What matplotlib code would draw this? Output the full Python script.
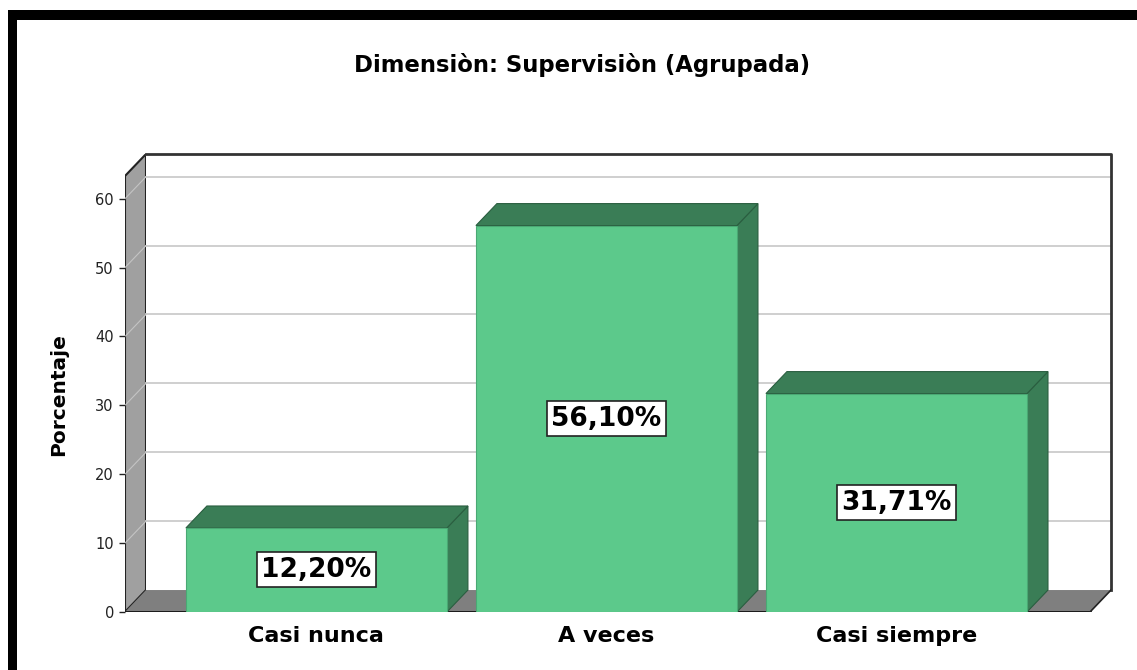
import matplotlib.pyplot as plt
from matplotlib.patches import Polygon, Rectangle

plt.rcParams['font.family'] = ['DejaVu Sans']

categories = ['Casi nunca', 'A veces', 'Casi siempre']
percentages = [12.20, 56.10, 31.71]
labels = ['12,20%', '56,10%', '31,71%']
yticks = [0, 10, 20, 30, 40, 50, 60]

front = '#5cc98b'
dark = '#3a7d56'

# 3d look: depth offset in data units
dx, dy = 0.0724, 3.19
xl, xr = -0.660, 2.7397
top = 63.3
w = 0.45

fig = plt.figure(figsize=(11.37, 6.70), dpi=100)
ax = fig.add_axes([125 / 1137, 58 / 670, 986 / 1137, 458 / 670])
ax.set_xlim(xl, xr)
ax.set_ylim(0, top + dy)

# left wall
ax.add_patch(Polygon([(xl, 0), (xl + dx, dy), (xl + dx, top + dy), (xl, top)],
                     closed=True, fc='#a0a0a0', ec='#222222', lw=1.5, zorder=1))
# floor
ax.add_patch(Polygon([(xl, 0), (xr - dx, 0), (xr, dy), (xl + dx, dy)],
                     closed=True, fc='#7f7f7f', ec='none', zorder=1))
ax.plot([xl, xr - dx], [0, 0], color='#111111', lw=2, zorder=2)
# back wall
ax.add_patch(Rectangle((xl + dx, dy), xr - xl - dx, top, fc='white', ec='none', zorder=1))
ax.plot([xl + dx, xr, xr], [top + dy, top + dy, dy], color='#333333', lw=2, zorder=2,
        clip_on=False)
ax.plot([xr - dx, xr], [0, dy], color='#222222', lw=1.2, zorder=2)

# gridlines on back wall and left wall
for t in yticks[1:]:
    ax.plot([xl + dx, xr], [t + dy, t + dy], color='#cccccc', lw=1.3, zorder=1.5)
    ax.plot([xl, xl + dx], [t, t + dy], color='#c4c4c4', lw=0.8, zorder=1.5)

for i, (v, lab) in enumerate(zip(percentages, labels)):
    x0, x1 = i - w, i + w
    # side
    ax.add_patch(Polygon([(x1, 0), (x1 + dx, dy), (x1 + dx, v + dy), (x1, v)],
                         closed=True, fc=dark, ec='#2a5e40', lw=0.8, zorder=3))
    # top
    ax.add_patch(Polygon([(x0, v), (x0 + dx, v + dy), (x1 + dx, v + dy), (x1, v)],
                         closed=True, fc=dark, ec='#2a5e40', lw=0.8, zorder=3))
    # front
    ax.bar(i, v, width=2 * w, color=front, edgecolor='#4aa874', lw=0.8, zorder=4)
    ax.text(i, v / 2, lab, ha='center', va='center', fontsize=19, fontweight='bold',
            zorder=5, bbox=dict(boxstyle='square,pad=0.17', fc='white', ec='#222222', lw=1.2))

for s in ax.spines.values():
    s.set_visible(False)
ax.set_yticks(yticks)
ax.set_yticklabels([str(t) for t in yticks], fontsize=10.5, color='#222222')
ax.tick_params(axis='y', length=4, width=1, color='#222222', pad=4)
ax.set_xticks(range(len(categories)))
ax.set_xticklabels(categories, fontsize=16, fontweight='bold')
ax.tick_params(axis='x', length=0, pad=10)
ax.set_ylabel('Porcentaje', fontsize=14.5, fontweight='bold')
ax.yaxis.set_label_coords(-0.058, 0.474)

fig.text(582 / 1137, 1 - 65 / 670, 'Dimensiòn: Supervisiòn (Agrupada)', ha='center',
         va='center', fontsize=16.4, fontweight='bold')

# black frame (top and left)
fig.patches.append(Rectangle((8 / 1137, 650 / 670), 1, 10 / 670, transform=fig.transFigure,
                             fc='black', ec='none'))
fig.patches.append(Rectangle((8 / 1137, 0), 9 / 1137, 660 / 670, transform=fig.transFigure,
                             fc='black', ec='none'))

fig.savefig('out.png', dpi=100)
